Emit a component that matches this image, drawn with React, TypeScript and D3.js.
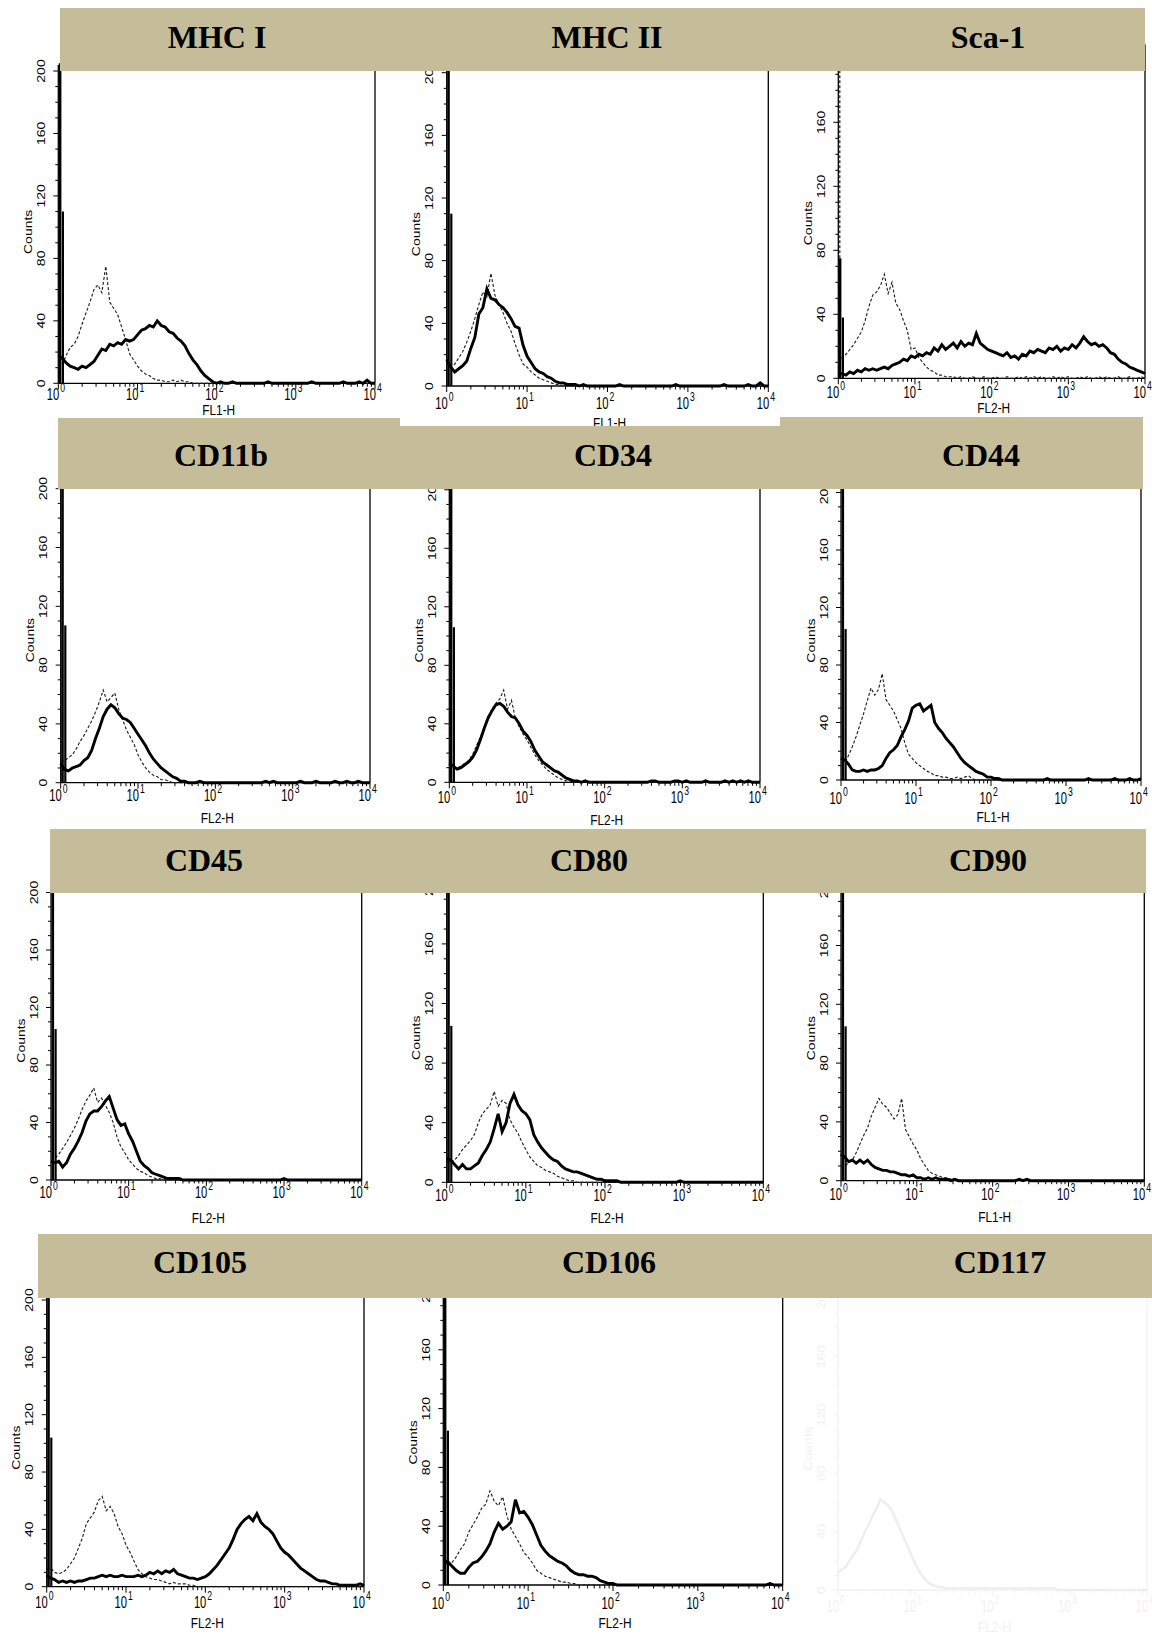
import React from 'react';
import * as d3 from 'd3';

// flow cytometry histograms, counts per channel, channels every 0.05 decade from 10^0 to 10^4
const channelStep = 0.05;
const yTicks = [0, 40, 80, 120, 160, 200];
const xDecades = [1, 10, 100, 1000, 10000];
const xExponents = ['0', '1', '2', '3', '4'];

const markers = ['MHC I', 'MHC II', 'Sca-1', 'CD11b', 'CD34', 'CD44', 'CD45', 'CD80', 'CD90', 'CD105', 'CD106', 'CD117'];
const channelNames = ['FL1-H', 'FL1-H', 'FL2-H', 'FL2-H', 'FL2-H', 'FL1-H', 'FL2-H', 'FL2-H', 'FL1-H', 'FL2-H', 'FL2-H', 'FL2-H'];

const mhc1Solid = [
  18, 16, 13, 11, 10, 9, 11, 10, 12, 14,
  18, 22, 21, 25, 24, 26, 25, 28, 27, 28,
  31, 34, 35, 37, 36, 40, 37, 36, 33, 32,
  29, 27, 24, 19, 15, 12, 8, 5, 3, 1,
  0, 1, 0, 0, 1, 0, 0, 0, 0, 0,
  0, 0, 0, 1, 0, 0, 0, 0, 0, 0,
  0, 0, 0, 0, 1, 0, 0, 0, 0, 0,
  0, 0, 1, 0, 0, 0, 1, 0, 2, 0,
  0,
];
const mhc1Dashed = [
  10, 12, 18, 23, 25, 30, 38, 45, 52, 60,
  63, 58, 75, 52, 48, 44, 36, 28, 19, 15,
  11, 8, 6, 5, 3, 2, 2, 1, 1, 2,
  1, 2, 1, 1, 0, 0, 0, 0, 0, 0,
  0, 0, 0, 0, 0, 0, 0, 0, 0, 0,
  0, 0, 0, 0, 0, 0, 0, 0, 0, 0,
  0, 0, 0, 0, 0, 0, 0, 0, 0, 0,
  0, 0, 0, 0, 0, 0, 0, 0, 0, 0,
  0,
];
const mhc2Solid = [
  17, 12, 9, 11, 13, 16, 24, 31, 46, 50,
  62, 56, 55, 52, 50, 47, 43, 38, 37, 26,
  19, 15, 11, 9, 8, 6, 5, 3, 2, 2,
  1, 1, 1, 0, 1, 0, 0, 0, 0, 0,
  0, 0, 0, 1, 0, 0, 0, 0, 0, 0,
  0, 0, 0, 0, 0, 0, 0, 1, 0, 0,
  0, 0, 0, 0, 0, 0, 0, 0, 0, 1,
  0, 0, 0, 0, 0, 1, 0, 0, 2, 0,
  0,
];
const mhc2Dashed = [
  15, 12, 14, 18, 22, 28, 35, 43, 52, 60,
  57, 72, 58, 52, 47, 40, 35, 27, 20, 14,
  12, 9, 7, 5, 4, 3, 2, 1, 1, 0,
  0, 0, 0, 0, 0, 0, 0, 0, 0, 0,
  0, 0, 0, 0, 0, 0, 0, 0, 0, 0,
  0, 0, 0, 0, 0, 0, 0, 0, 0, 0,
  0, 0, 0, 0, 0, 0, 0, 0, 0, 0,
  0, 0, 0, 0, 0, 0, 0, 0, 0, 0,
  0,
];
const sca1Solid = [
  2, 3, 2, 4, 3, 5, 4, 6, 5, 6,
  5, 6, 7, 6, 8, 9, 10, 12, 11, 14,
  13, 15, 14, 16, 15, 19, 17, 21, 18, 20,
  22, 19, 23, 20, 22, 21, 28, 22, 20, 18,
  17, 16, 15, 14, 16, 13, 14, 12, 15, 14,
  17, 16, 18, 17, 16, 19, 18, 20, 17, 19,
  18, 21, 19, 22, 26, 23, 21, 22, 20, 21,
  19, 16, 15, 12, 10, 9, 7, 6, 5, 4,
  3,
];
const sca1Dashed = [
  10, 13, 15, 18, 21, 25, 29, 36, 45, 52,
  54, 58, 65, 53, 60, 47, 43, 36, 30, 18,
  19, 13, 10, 7, 5, 4, 2, 2, 1, 1,
  1, 0, 1, 0, 0, 1, 0, 0, 1, 0,
  0, 1, 0, 0, 1, 0, 0, 1, 0, 1,
  0, 1, 0, 1, 0, 0, 1, 0, 1, 0,
  1, 0, 0, 1, 0, 1, 0, 0, 1, 0,
  1, 0, 0, 1, 0, 0, 1, 0, 0, 1,
  0,
];
const cd11bSolid = [
  13, 9, 8, 10, 11, 12, 15, 17, 22, 30,
  37, 45, 50, 53, 51, 47, 44, 43, 41, 37,
  33, 29, 25, 20, 16, 13, 10, 8, 6, 4,
  3, 1, 1, 0, 0, 0, 1, 0, 0, 0,
  0, 0, 0, 0, 0, 0, 0, 0, 0, 0,
  0, 0, 0, 1, 0, 1, 0, 0, 0, 0,
  0, 0, 1, 0, 0, 0, 1, 0, 0, 0,
  0, 1, 0, 0, 1, 0, 0, 1, 0, 0,
  0,
];
const cd11bDashed = [
  14, 15, 17, 19, 23, 28, 32, 37, 42, 48,
  55, 63, 55, 58, 61, 50, 43, 36, 31, 26,
  19, 14, 10, 7, 5, 4, 2, 2, 1, 0,
  0, 0, 0, 0, 0, 0, 0, 0, 0, 0,
  0, 0, 0, 0, 0, 0, 0, 0, 0, 0,
  0, 0, 0, 0, 0, 0, 0, 0, 0, 0,
  0, 0, 0, 0, 0, 0, 0, 0, 0, 0,
  0, 0, 0, 0, 0, 0, 0, 0, 0, 0,
  0,
];
const cd34Solid = [
  13, 11, 9, 10, 12, 14, 17, 22, 29, 37,
  44, 49, 53, 54, 52, 48, 45, 44, 40, 35,
  32, 28, 22, 18, 14, 12, 10, 8, 7, 5,
  3, 2, 1, 1, 0, 1, 0, 0, 0, 0,
  0, 0, 0, 0, 0, 0, 0, 0, 0, 0,
  0, 0, 1, 1, 0, 0, 0, 0, 1, 1,
  0, 1, 0, 0, 0, 0, 1, 0, 0, 0,
  0, 1, 0, 1, 0, 1, 0, 1, 0, 0,
  0,
];
const cd34Dashed = [
  12, 10, 10, 11, 13, 15, 19, 25, 31, 38,
  45, 50, 54, 57, 63, 50, 56, 44, 38, 33,
  29, 24, 19, 15, 12, 9, 7, 5, 3, 2,
  1, 1, 0, 0, 0, 0, 0, 0, 0, 0,
  0, 0, 0, 0, 0, 0, 0, 0, 0, 0,
  0, 0, 0, 0, 0, 0, 0, 0, 0, 0,
  0, 0, 0, 0, 0, 0, 0, 0, 0, 0,
  0, 0, 0, 0, 0, 0, 0, 0, 0, 0,
  0,
];
const cd44Solid = [
  15, 14, 11, 7, 6, 6, 7, 6, 7, 7,
  8, 10, 15, 19, 21, 24, 30, 35, 41, 50,
  52, 53, 48, 50, 52, 40, 36, 33, 29, 26,
  23, 19, 15, 12, 10, 8, 6, 5, 4, 2,
  2, 1, 1, 0, 0, 0, 0, 0, 0, 0,
  0, 0, 0, 0, 0, 1, 0, 0, 0, 0,
  0, 0, 0, 0, 0, 0, 1, 0, 0, 0,
  0, 0, 0, 1, 0, 0, 0, 1, 0, 0,
  1,
];
const cd44Dashed = [
  12, 12, 17, 23, 30, 38, 46, 55, 64, 59,
  63, 74, 56, 52, 48, 42, 36, 26, 18, 15,
  12, 10, 8, 6, 5, 3, 3, 2, 2, 1,
  1, 2, 1, 2, 3, 1, 0, 0, 0, 0,
  0, 0, 0, 0, 0, 0, 0, 0, 0, 0,
  0, 0, 0, 0, 0, 0, 0, 0, 0, 0,
  0, 0, 0, 0, 0, 0, 0, 0, 0, 0,
  0, 0, 0, 0, 0, 0, 0, 0, 0, 0,
  0,
];
const cd45Solid = [
  13, 12, 13, 9, 12, 18, 22, 27, 33, 41,
  46, 48, 48, 51, 55, 58, 50, 42, 38, 39,
  32, 27, 20, 13, 10, 8, 5, 4, 3, 2,
  1, 1, 1, 1, 0, 0, 0, 0, 0, 0,
  0, 0, 0, 0, 0, 0, 0, 0, 0, 0,
  0, 0, 0, 0, 0, 0, 0, 0, 0, 0,
  1, 0, 0, 0, 0, 0, 0, 0, 0, 0,
  0, 0, 0, 0, 0, 0, 0, 0, 0, 0,
  0,
];
const cd45Dashed = [
  14, 15, 18, 22, 26, 31, 36, 42, 49, 55,
  59, 64, 54, 57, 52, 47, 40, 30, 23, 19,
  14, 11, 8, 6, 5, 3, 2, 1, 1, 0,
  0, 0, 0, 0, 0, 0, 0, 0, 0, 0,
  0, 0, 0, 0, 0, 0, 0, 0, 0, 0,
  0, 0, 0, 0, 0, 0, 0, 0, 0, 0,
  0, 0, 0, 0, 0, 0, 0, 0, 0, 0,
  0, 0, 0, 0, 0, 0, 0, 0, 0, 0,
  0,
];
const cd80Solid = [
  16, 15, 12, 9, 12, 9, 9, 11, 13, 18,
  22, 27, 36, 46, 34, 40, 53, 59, 52, 48,
  46, 42, 32, 27, 23, 20, 17, 15, 14, 11,
  9, 8, 7, 7, 6, 5, 4, 3, 2, 2,
  1, 1, 1, 1, 0, 0, 0, 0, 0, 0,
  0, 0, 0, 0, 0, 0, 0, 0, 0, 1,
  0, 0, 0, 0, 0, 0, 0, 0, 0, 0,
  0, 0, 0, 0, 0, 0, 0, 0, 0, 0,
  0,
];
const cd80Dashed = [
  14, 13, 15, 18, 22, 25, 28, 32, 40, 46,
  49, 52, 61, 51, 55, 53, 42, 37, 33, 27,
  22, 17, 14, 11, 10, 8, 7, 6, 4, 3,
  2, 1, 1, 0, 0, 0, 0, 0, 0, 0,
  0, 0, 0, 0, 0, 0, 0, 0, 0, 0,
  0, 0, 0, 0, 0, 0, 0, 0, 0, 0,
  0, 0, 0, 0, 0, 0, 0, 0, 0, 0,
  0, 0, 0, 0, 0, 0, 0, 0, 0, 0,
  0,
];
const cd90Solid = [
  18, 16, 13, 14, 12, 14, 12, 14, 11, 9,
  8, 7, 7, 6, 6, 5, 4, 4, 3, 4,
  2, 2, 1, 2, 1, 2, 1, 1, 1, 0,
  1, 0, 0, 0, 0, 0, 0, 0, 0, 0,
  0, 0, 0, 0, 0, 0, 0, 1, 0, 1,
  0, 0, 0, 0, 0, 0, 0, 0, 0, 0,
  0, 0, 0, 0, 0, 0, 0, 0, 0, 0,
  0, 0, 0, 0, 0, 0, 0, 0, 0, 0,
  0,
];
const cd90Dashed = [
  11, 10, 12, 14, 19, 25, 31, 36, 44, 50,
  56, 52, 50, 46, 42, 45, 56, 35, 30, 25,
  21, 15, 11, 7, 5, 4, 3, 2, 2, 1,
  1, 0, 0, 0, 0, 0, 0, 0, 0, 0,
  0, 0, 0, 0, 0, 0, 0, 0, 0, 0,
  0, 0, 0, 0, 0, 0, 0, 0, 0, 0,
  0, 0, 0, 0, 0, 0, 0, 0, 0, 0,
  0, 0, 0, 0, 0, 0, 0, 0, 0, 0,
  0,
];
const cd105Solid = [
  8, 6, 5, 3, 4, 3, 4, 3, 4, 4,
  5, 6, 6, 7, 8, 7, 8, 7, 7, 8,
  7, 7, 7, 8, 7, 8, 10, 9, 11, 9,
  11, 10, 12, 9, 8, 7, 6, 6, 5, 6,
  7, 9, 12, 15, 19, 23, 27, 33, 40, 44,
  47, 49, 46, 51, 45, 42, 40, 37, 32, 27,
  24, 22, 19, 16, 13, 11, 9, 7, 5, 4,
  4, 3, 2, 2, 1, 1, 1, 1, 1, 2,
  1,
];
const cd105Dashed = [
  12, 13, 10, 9, 10, 12, 16, 20, 27, 34,
  44, 48, 52, 60, 63, 53, 56, 51, 42, 37,
  29, 24, 18, 12, 9, 7, 6, 5, 5, 4,
  3, 2, 3, 2, 2, 2, 1, 1, 0, 0,
  0, 0, 0, 0, 0, 0, 0, 0, 0, 0,
  0, 0, 0, 0, 0, 0, 0, 0, 0, 0,
  0, 0, 0, 0, 0, 0, 0, 0, 0, 0,
  0, 0, 0, 0, 0, 0, 0, 0, 0, 0,
  0,
];
const cd106Solid = [
  15, 16, 13, 10, 8, 8, 12, 15, 16, 19,
  23, 28, 36, 42, 38, 40, 43, 58, 49, 50,
  46, 41, 34, 27, 23, 20, 18, 16, 15, 13,
  10, 8, 7, 7, 6, 6, 5, 3, 2, 1,
  1, 0, 0, 0, 0, 0, 0, 0, 0, 0,
  0, 0, 0, 0, 0, 0, 0, 0, 0, 0,
  0, 0, 0, 0, 0, 0, 0, 0, 0, 0,
  0, 0, 0, 0, 0, 0, 0, 1, 0, 0,
  0,
];
const cd106Dashed = [
  14, 13, 15, 19, 24, 28, 36, 41, 46, 52,
  55, 64, 57, 54, 60, 47, 38, 33, 28, 22,
  19, 15, 10, 8, 6, 5, 4, 3, 2, 2,
  1, 1, 0, 0, 0, 0, 0, 0, 0, 0,
  0, 0, 0, 0, 0, 0, 0, 0, 0, 0,
  0, 0, 0, 0, 0, 0, 0, 0, 0, 0,
  0, 0, 0, 0, 0, 0, 0, 0, 0, 0,
  0, 0, 0, 0, 0, 0, 0, 0, 0, 0,
  0,
];
// faded, barely visible panel
const cd117Ghost = [
  12, 14, 16, 20, 24, 28, 34, 40, 45, 51,
  56, 62, 60, 58, 54, 48, 42, 36, 30, 24,
  18, 13, 9, 6, 4, 3, 2, 2, 1, 1,
  1, 1, 1, 1, 1, 1, 1, 1, 1, 1,
  1, 1, 1, 1, 1, 1, 1, 1, 1, 1,
  1, 1, 1, 1, 1, 1, 1, 0, 0, 0,
  0, 0, 0, 0, 0, 0, 0, 0, 0, 0,
  0, 0, 0, 0, 0, 0, 0, 0, 0, 0,
  0,
];

// first-channel pile-up (counts), drawn as bars against the axis
const solidSpikes = [[210, 110], [210, 110], [75, 38], [210, 107], [210, 106], [210, 105], [210, 105], [210, 105], [210, 105], [210, 104], [210, 105], []];
const dashedSpikes = [[], [], [210], [], [], [], [], [], [], [], [], []];

const solidSeries = [mhc1Solid, mhc2Solid, sca1Solid, cd11bSolid, cd34Solid, cd44Solid, cd45Solid, cd80Solid, cd90Solid, cd105Solid, cd106Solid, null];
const dashedSeries = [mhc1Dashed, mhc2Dashed, sca1Dashed, cd11bDashed, cd34Dashed, cd44Dashed, cd45Dashed, cd80Dashed, cd90Dashed, cd105Dashed, cd106Dashed, cd117Ghost];

// layout: x of 10^0, x of 10^4, y of 200 counts, y of 0 counts, tick label offset, axis title offset
const plotBoxes = [
  [58.3, 375, 71, 383.3, 17, 32],
  [446.7, 768.3, 72.7, 386, 23, 42],
  [838.3, 1145, 58.3, 378.3, 20, 35],
  [60.7, 370, 488.7, 782.7, 18, 40],
  [449.3, 760, 489.8, 782.3, 21, 43],
  [841, 1141, 492.5, 780, 24, 42],
  [51, 361.7, 892.5, 1180, 18, 43],
  [446.7, 763.3, 884.3, 1182.3, 19, 41],
  [841, 1144.3, 886.7, 1180.7, 19, 41],
  [46.7, 364, 1300, 1586.7, 21, 41],
  [443.3, 782.7, 1291, 1585, 24, 43],
  [838, 1147, 1298, 1590, 22, 42],
];
const bands = [
  [60, 8, 1145, 71],
  [58, 418, 400, 489],
  [400, 426, 780, 489],
  [780, 417, 1143, 489],
  [50, 829, 1146, 893],
  [38, 1234, 1152, 1298],
];
const titlePos = [
  [217, 48], [607, 48], [988, 48],
  [221, 466], [613, 466], [981, 466],
  [204, 871], [589, 871], [988, 871],
  [200, 1273], [609, 1273], [1000, 1273],
];

const BAND = '#c5bd99';
const SANS = '"Liberation Sans", Arial, sans-serif';

function Panel({ idx }: { idx: number }) {
  const [x0, x1, yTop, y0, tickDy, labelDy] = plotBoxes[idx];
  const ghost = solidSeries[idx] === null;
  const ink = ghost ? '#f1f1f1' : '#000';
  const xs = d3.scaleLog().domain([1, 10000]).range([x0, x1]);
  const ys = d3.scaleLinear().domain([0, 200]).range([y0, yTop]);
  const chan = (i: number) => Math.pow(10, i * channelStep);
  const line = d3.line<number>()
    .x((_, i) => xs(chan(i)))
    .y((v) => ys(Math.min(v, 205)));

  const minorX: number[] = [];
  for (let d = 0; d < 4; d++) {
    for (let m = 2; m <= 9; m++) minorX.push(m * xDecades[d]);
  }
  const minorY = d3.range(0, 201, 10).filter((v) => v % 40 !== 0);

  const dashed = dashedSeries[idx];
  const solid = solidSeries[idx];

  return (
    <g>
      {/* frame */}
      <line x1={x0} x2={x0} y1={yTop - 6} y2={y0} stroke={ink} strokeWidth={1.3} />
      <line x1={x0} x2={x1} y1={y0} y2={y0} stroke={ink} strokeWidth={1.3} />
      <line x1={x1} x2={x1} y1={yTop - 14} y2={y0} stroke={ink} strokeWidth={1.3} />

      {/* y ticks */}
      {yTicks.map((t) => (
        <g key={'yt' + t}>
          <line x1={x0 - 5} x2={x0} y1={ys(t)} y2={ys(t)} stroke={ink} strokeWidth={1} />
          <g transform={`translate(${x0 - 17},${ys(t)}) rotate(-90) scale(1,0.8)`}>
            <text textAnchor="middle" dominantBaseline="central" fontFamily={SANS} fontSize={14} fill={ink}>{t}</text>
          </g>
        </g>
      ))}
      {minorY.map((t) => (
        <line key={'ym' + t} x1={x0 - 3} x2={x0} y1={ys(t)} y2={ys(t)} stroke={ink} strokeWidth={1} />
      ))}
      <g transform={`translate(${x0 - 30},${ys(97)}) rotate(-90) scale(1,0.8)`}>
        <text textAnchor="middle" dominantBaseline="central" fontFamily={SANS} fontSize={14} fill={ink}>Counts</text>
      </g>

      {/* x ticks */}
      {xDecades.map((d, i) => (
        <g key={'xt' + d}>
          <line x1={xs(d)} x2={xs(d)} y1={y0} y2={y0 + 6} stroke={ink} strokeWidth={1} />
          <g transform={`translate(${xs(d) + 1},${y0 + tickDy}) scale(0.7,1)`}>
            <text textAnchor="end" fontFamily={SANS} fontSize={16} fill={ink}>10</text>
          </g>
          <g transform={`translate(${xs(d) + 2},${y0 + tickDy - 8}) scale(0.72,1)`}>
            <text textAnchor="start" fontFamily={SANS} fontSize={12} fill={ink}>{xExponents[i]}</text>
          </g>
        </g>
      ))}
      {minorX.map((m) => (
        <line key={'xm' + m} x1={xs(m)} x2={xs(m)} y1={y0} y2={y0 + 3.5} stroke={ink} strokeWidth={1} />
      ))}
      <g transform={`translate(${xs(100) + 2},${y0 + labelDy}) scale(0.85,1)`}>
        <text textAnchor="middle" fontFamily={SANS} fontSize={14} fill={ink}>{channelNames[idx]}</text>
      </g>

      {/* histograms */}
      {dashed && (
        <path d={line(dashed) || ''} fill="none"
          stroke={ghost ? '#eeeeee' : '#222'} strokeWidth={ghost ? 2.5 : 1.15}
          strokeDasharray={ghost ? undefined : '3 2'} />
      )}
      {dashedSpikes[idx].map((v, k) => (
        <line key={'ds' + k} x1={x0 + 1.5 + k * 2.5} x2={x0 + 1.5 + k * 2.5} y1={y0} y2={ys(Math.min(v, 205))}
          stroke="#222" strokeWidth={1.2} strokeDasharray="3 2" />
      ))}
      {solid && (
        <path d={line(solid) || ''} fill="none" stroke="#000" strokeWidth={2.9} strokeLinejoin="miter" />
      )}
      {solidSpikes[idx].map((v, k) => (
        <line key={'ss' + k} x1={x0 + 1.8 + k * 2.8} x2={x0 + 1.8 + k * 2.8} y1={y0} y2={ys(Math.min(v, 205))}
          stroke="#000" strokeWidth={k === 0 ? 2.6 : 2.2} />
      ))}
    </g>
  );
}

export default function App() {
  return (
    <div style={{ position: 'absolute', left: 0, top: 0 }}>
      <svg width={1152} height={1635} viewBox="0 0 1152 1635" style={{ display: 'block', background: '#fff' }}>
        <rect x={0} y={0} width={1152} height={1635} fill="#fff" />
        {markers.map((_, i) => <Panel key={i} idx={i} />)}
        {bands.map(([bx0, by0, bx1, by1], i) => (
          <rect key={'b' + i} x={bx0} y={by0} width={bx1 - bx0} height={by1 - by0} fill={BAND} />
        ))}
        {markers.map((m, i) => (
          <text key={'t' + i} x={titlePos[i][0]} y={titlePos[i][1]} textAnchor="middle"
            fontFamily='"Liberation Serif", "Times New Roman", serif' fontWeight="bold" fontSize={32} fill="#000">
            {m}
          </text>
        ))}
      </svg>
    </div>
  );
}
